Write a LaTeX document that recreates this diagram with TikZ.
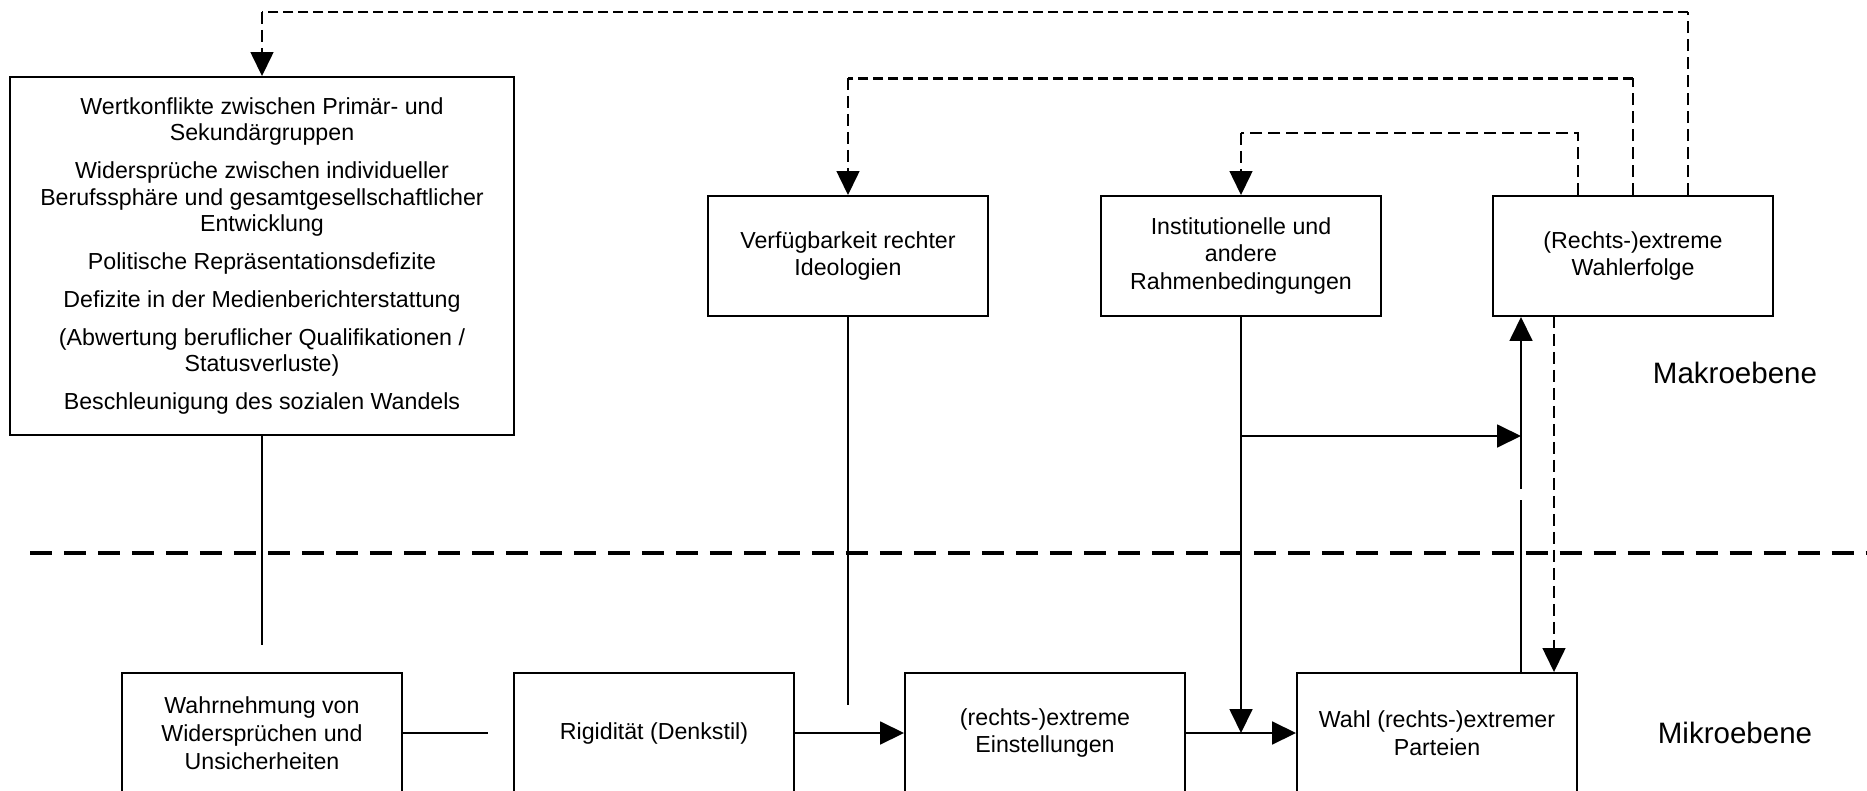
\documentclass[tikz,border=0pt]{standalone}
\usepackage{fontspec}
\setmainfont{Liberation Sans}
\usetikzlibrary{arrows.meta}

\begin{document}
\begin{tikzpicture}[y ={(0 cm ,-0.02 cm )}, x ={( 0.02 cm , 0 cm )},
	box/.style = {draw, line width=0.04cm, minimum width=5.6cm, minimum height=2.4cm, align=center, inner sep=0pt, font=\fontsize{13.2pt}{15.9pt}\selectfont},
	conn/.style = {line width=0.036cm},
	arr/.style = {conn, -{Triangle[length=0.48cm, width=0.46cm]}},
	thindash/.style = {line width=0.03cm, dash pattern=on 0.24cm off 0.12cm},
	thickdash/.style = {line width=0.06cm, dash pattern=on 0.2cm off 0.1cm},
	sepline/.style = {line width=0.08cm, dash pattern=on 0.44cm off 0.24cm},
	ebene/.style = {font=\fontsize{16.8pt}{18pt}\selectfont}]
			\useasboundingbox (0,0) rectangle (1867,791);
			\clip (0,0) rectangle (1867,791);
			\node[box, minimum width=10.08cm, minimum height=7.16cm, font=\fontsize{13.2pt}{14.8pt}\selectfont] (bigbox) at (262,256) {Wertkonflikte zwischen Primär- und\\ Sekundärgruppen\\[0.24cm] Widersprüche zwischen individueller\\ Berufssphäre und gesamtgesellschaftlicher\\ Entwicklung\\[0.24cm] Politische Repräsentationsdefizite\\[0.24cm] Defizite in der Medienberichterstattung\\[0.24cm] (Abwertung beruflicher Qualifikationen /\\ Statusverluste)\\[0.24cm] Beschleunigung des sozialen Wandels};
			\node[box] (ideol) at (848,256) {Verfügbarkeit rechter\\ Ideologien};
			\node[box] (rahmen) at (1241,256) {Institutionelle und\\ andere\\ Rahmenbedingungen};
			\node[box] (erfolg) at (1633,256) {(Rechts-)extreme\\ Wahlerfolge};
			\node[box] (wahrn) at (262,733) {Wahrnehmung von\\ Widersprüchen und\\ Unsicherheiten};
			\node[box] (rigid) at (654,733) {Rigidität (Denkstil)};
			\node[box] (einst) at (1045,733) {(rechts-)extreme\\ Einstellungen};
			\node[box] (wahl) at (1437,733) {Wahl (rechts-)extremer\\ Parteien};
			\node[ebene] (makro) at (1735,373) {Makroebene};
			\node[ebene] (mikro) at (1735,733) {Mikroebene};
			\coordinate (top1) at (1688,12);
			\coordinate (top2) at (1633,78);
			\coordinate (top3) at (1578,133);
			\draw[thindash] (erfolg.north -| top1) -- (top1);
			\draw[thickdash] (top1) -- (top1 -| bigbox.north);
			\draw[thindash, -{Triangle[length=0.48cm, width=0.46cm]}] (top1 -| bigbox.north) -- (bigbox.north);
			\draw[thindash] (erfolg.north -| top2) -- (top2);
			\draw[thickdash] (top2) -- (top2 -| ideol.north);
			\draw[thindash, -{Triangle[length=0.48cm, width=0.46cm]}] (top2 -| ideol.north) -- (ideol.north);
			\draw[thindash] (erfolg.north -| top3) -- (top3) -- (top3 -| rahmen.north);
			\draw[thindash, -{Triangle[length=0.48cm, width=0.46cm]}] (top3 -| rahmen.north) -- (rahmen.north);
			\coordinate (sepl) at (30,553);
			\coordinate (sepr) at (1867,553);
			\draw[sepline] (sepl) -- (sepr);
			\coordinate (bend) at (262,645);
			\coordinate (iend) at (848,705);
			\coordinate (wend) at (488,733);
			\draw[conn] (bigbox.south) -- (bend);
			\draw[conn] (ideol.south) -- (iend);
			\draw[conn] (wahrn.east) -- (wend);
			\draw[arr] (rigid.east) -- (einst.west);
			\draw[arr] (einst.east) -- (wahl.west);
			\draw[arr] (rahmen.south) -- (rahmen.south |- einst.east);
			\coordinate (gaplo) at (1521,500);
			\coordinate (gaphi) at (1521,489);
			\coordinate (branch) at (1241,436);
			\draw[conn] (wahl.north -| gaplo) -- (gaplo);
			\draw[arr] (gaphi) -- (gaphi |- erfolg.south);
			\draw[arr] (branch) -- (branch -| gaphi);
			\coordinate (down) at (1554,316);
			\draw[thindash, -{Triangle[length=0.48cm, width=0.46cm]}] (down) -- (down |- wahl.north);
		\end{tikzpicture}
\end{document}
